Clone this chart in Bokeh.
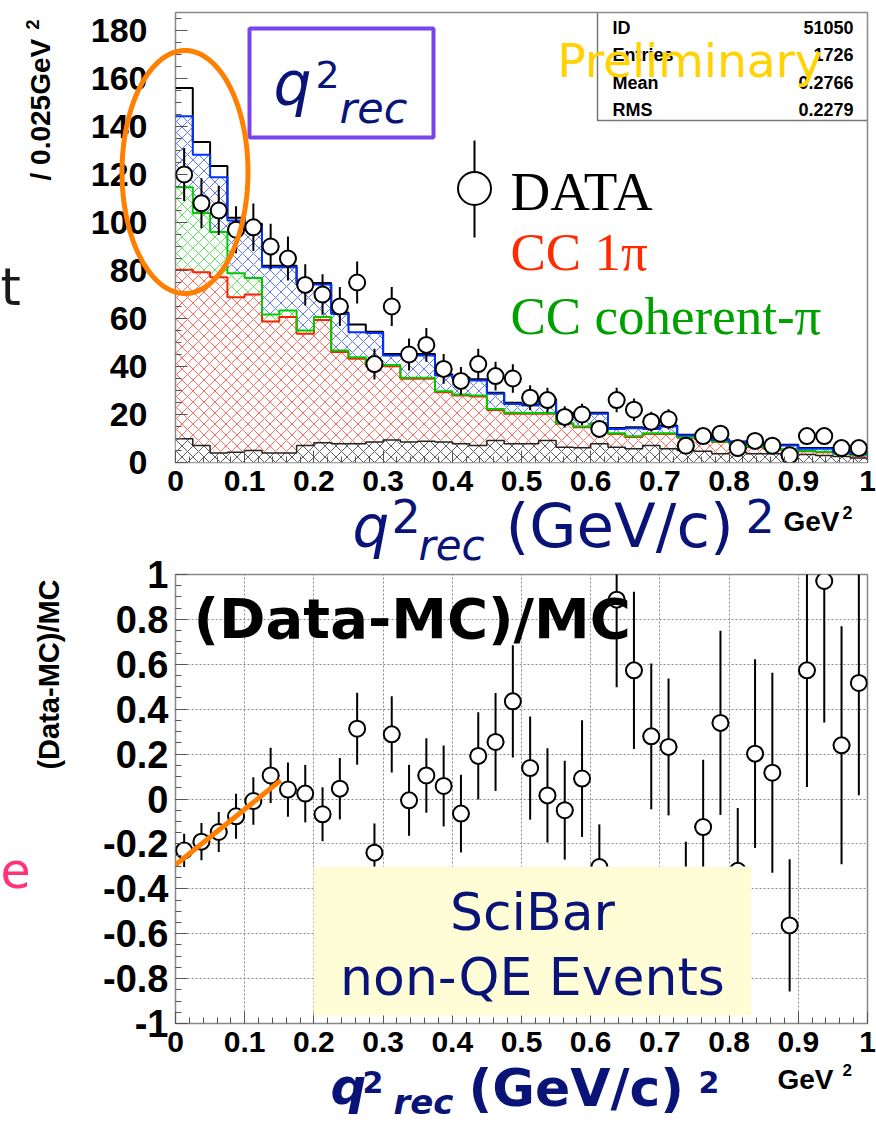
import numpy as np
from bokeh.plotting import figure
from bokeh.layouts import column
from bokeh.models import (Label, BoxAnnotation, PolyAnnotation, FixedTicker,
                          CustomJSTickFormatter, Range1d)
from bokeh.embed import file_html
from bokeh.resources import INLINE

# ---------------- data ----------------
bin_edges = np.linspace(0.0, 1.0, 41)          # 40 bins of 0.025 GeV^2

# cumulative stacked MC levels (top of each component)
mc_other = [9.9, 7.1, 4.0, 4.3, 5.0, 4.0, 4.0, 7.1, 8.2, 7.8, 7.8, 8.5, 9.4, 8.5, 8.9, 8.5, 7.8, 7.1, 9.2, 7.8,
            7.8, 9.2, 6.4, 6.1, 7.8, 6.4, 5.7, 7.1, 5.7, 5.0, 4.7, 3.6, 4.3, 3.6, 3.6, 2.9, 3.3, 2.9, 2.5, 1.9]
mc_cc1pi = [80.3, 79.3, 77.2, 68.9, 70.0, 58.8, 60.6, 53.6, 59.4, 46.0, 43.2, 40.1, 40.1, 34.9, 34.9, 29.3, 27.9, 27.5, 21.9, 20.3,
            20.3, 20.3, 16.1, 14.7, 16.1, 11.9, 10.6, 11.9, 11.9, 10.3, 9.9, 8.5, 7.8, 6.4, 5.7, 5.3, 4.7, 4.3, 3.6, 2.9]
mc_coh = [114.7, 104.0, 96.0, 78.9, 76.9, 61.7, 63.3, 55.0, 60.6, 46.7, 43.9, 40.6, 40.6, 35.3, 35.3, 29.7, 28.3, 27.9, 22.3, 20.7,
          20.6, 20.6, 16.4, 15.0, 16.4, 12.2, 10.9, 12.2, 12.2, 10.5, 10.1, 8.7, 8.0, 6.6, 5.9, 5.5, 4.9, 4.5, 3.8, 3.1]
mc_qe = [144.3, 128.2, 118.9, 100.8, 98.8, 81.4, 81.4, 74.2, 74.2, 61.9, 54.3, 54.0, 44.6, 44.6, 44.6, 36.3, 34.9, 34.2, 28.6, 24.4,
         23.8, 26.1, 20.3, 20.3, 20.3, 14.0, 14.3, 14.0, 15.0, 11.3, 11.3, 9.4, 8.5, 7.8, 7.1, 7.1, 5.7, 5.7, 4.3, 3.6]
mc_total = [156.0, 133.5, 123.5, 102.0, 99.5, 82.0, 82.0, 74.8, 74.8, 62.5, 57.5, 54.5, 45.2, 45.2, 45.2, 36.8, 35.4, 34.7, 29.1, 24.9,
            24.2, 26.5, 20.7, 20.7, 20.7, 14.4, 14.7, 14.4, 15.4, 11.6, 11.6, 9.7, 8.8, 8.1, 7.4, 7.4, 6.0, 6.0, 4.6, 3.9]

data_counts = [120, 108, 105, 97, 98, 90, 85, 74, 70, 65, 75, 41, 65, 45, 49, 39, 34, 41, 36, 35,
               27, 26, 19, 20, 14, 26, 22, 17, 18, 7, 11, 12, 6, 9, 7, 3, 11, 11, 6, 6]
data_err = [11.0, 10.4, 10.2, 9.8, 9.9, 9.5, 9.2, 8.6, 8.4, 8.1, 8.7, 6.4, 8.1, 6.7, 7.0, 6.2, 5.8, 6.4, 6.0, 5.9,
            5.2, 5.1, 4.4, 4.5, 3.7, 5.1, 4.7, 4.1, 4.2, 2.6, 3.3, 3.5, 2.4, 3.0, 2.6, 1.7, 3.3, 3.3, 2.4, 2.4]

ratio = [-0.229, -0.19, -0.147, -0.077, -0.009, 0.105, 0.042, 0.024, -0.068, 0.046, 0.313, -0.239, 0.288, -0.006, 0.105,
         0.058, -0.065, 0.192, 0.254, 0.435, 0.138, 0.016, -0.05, 0.091, -0.303, 0.888, 0.573, 0.279, 0.232, -0.42,
         -0.125, 0.339, -0.32, 0.202, 0.117, -0.563, 0.573, 0.971, 0.239, 0.517]
ratio_err = [0.074, 0.083, 0.089, 0.1, 0.106, 0.123, 0.121, 0.128, 0.12, 0.137, 0.16, 0.13, 0.17, 0.158, 0.166,
             0.18, 0.173, 0.194, 0.218, 0.25, 0.23, 0.21, 0.22, 0.26, 0.19, 0.39, 0.35, 0.325, 0.305, 0.23,
             0.3, 0.41, 0.28, 0.42, 0.445, 0.295, 0.52, 0.63, 0.53, 0.5]

fit_x = [0.0, 0.152]
fit_y = [-0.293, 0.083]

x_ticks = [0.0, 0.1, 0.2, 0.3, 0.4, 0.5, 0.6, 0.7, 0.8, 0.9, 1.0]
y1_ticks = [0, 20, 40, 60, 80, 100, 120, 140, 160, 180]
y2_ticks = [-1.0, -0.8, -0.6, -0.4, -0.2, 0.0, 0.2, 0.4, 0.6, 0.8, 1.0]

stats_names = ["ID", "Entries", "Mean", "RMS"]
stats_values = ["51050", "1726", "0.2766", "0.2279"]

# ---------------- helpers (page pixel -> data) ----------------
FL, FR = 175, 867
def fx(X):
    return (X - FL) / (FR - FL)
def fy1(Y):
    return (462 - Y) / 2.4
def fy2(Y):
    return (798.5 - Y) / 224.5

NAVY = "#0A1478"
fmt = CustomJSTickFormatter(code="return Number(tick.toFixed(2)).toString();")


def style_axes(p, ylab_size, ystand):
    for ax in (p.xaxis[0], p.yaxis[0]):
        ax.axis_line_color = None
        ax.major_tick_in = 12
        ax.major_tick_out = 0
        ax.minor_tick_in = 6
        ax.minor_tick_out = 0
        ax.major_tick_line_color = "#555555"
        ax.minor_tick_line_color = "#555555"
        ax.major_label_text_font = "Liberation Sans"
        ax.major_label_text_font_style = "bold"
        ax.major_label_text_color = "black"
        ax.formatter = fmt
    p.xaxis[0].ticker = FixedTicker(ticks=x_ticks, minor_ticks=list(np.round(np.arange(0, 1.0001, 0.02), 3)))
    p.xaxis[0].major_label_text_font_size = "30px"
    p.xaxis[0].major_label_standoff = 8
    p.yaxis[0].major_label_text_font_size = ylab_size
    p.yaxis[0].major_label_standoff = ystand
    p.outline_line_color = "#888888"
    p.outline_line_width = 1.5


# ================= TOP FIGURE =================
p1 = figure(width=876, height=545, output_backend="svg", toolbar_location=None,
            x_range=Range1d(0, 1), y_range=Range1d(0, 187.5),
            min_border_left=175, min_border_right=9, min_border_top=12, min_border_bottom=83)
p1.xgrid.visible = False
p1.ygrid.visible = False
style_axes(p1, "34px", 28)
p1.yaxis[0].ticker = FixedTicker(ticks=y1_ticks, minor_ticks=list(np.arange(0, 187, 5)))

left = bin_edges[:-1]
right = bin_edges[1:]
zeros = np.zeros(len(left))
hs = dict(hatch_pattern="diagonal_cross", hatch_scale=11, hatch_weight=0.8, fill_alpha=0, line_alpha=0)
p1.quad(left=left, right=right, bottom=zeros, top=mc_cc1pi, hatch_color="#FF4433", **hs)
p1.quad(left=left, right=right, bottom=mc_cc1pi, top=mc_coh, hatch_color="#33DD33", **hs)
p1.quad(left=left, right=right, bottom=mc_coh, top=mc_qe, hatch_color="#3355FF", **hs)
p1.quad(left=left, right=right, bottom=zeros, top=mc_other, fill_color="white", fill_alpha=1,
        line_alpha=0, hatch_pattern="diagonal_cross", hatch_scale=11, hatch_weight=0.8, hatch_color="#333333")


def stepline(p, vals, color, w=2):
    p.step(x=bin_edges, y=list(vals) + [vals[-1]], mode="after", line_color=color, line_width=w)


stepline(p1, mc_other, "#222222", 1.5)
stepline(p1, mc_cc1pi, "#FF2200")
stepline(p1, mc_coh, "#00CC00")
stepline(p1, mc_total, "#000000")
stepline(p1, mc_qe, "#0033FF")

centers = (left + right) / 2
dc = np.array(data_counts, dtype=float)
de = np.array(data_err)
p1.segment(x0=centers, x1=centers, y0=dc - de, y1=dc + de, line_color="black", line_width=2)
p1.segment(x0=left, x1=right, y0=dc, y1=dc, line_color="black", line_width=2)
p1.scatter(x=centers, y=dc, size=16, marker="circle", fill_color="white", line_color="black", line_width=2)

# stats box and q2rec box
p1.add_layout(BoxAnnotation(left=fx(597), right=1.0, bottom=fy1(120), top=187.5,
                            fill_color="white", fill_alpha=1, line_color="#777777", line_alpha=1, line_width=1.5))
p1.add_layout(BoxAnnotation(left=fx(249), right=fx(433), bottom=fy1(137), top=fy1(28),
                            fill_alpha=0, line_color="#7744EE", line_alpha=1, line_width=4))

# legend marker
leg_x, leg_y = fx(474), fy1(188)
p1.segment(x0=[leg_x], x1=[leg_x], y0=[fy1(237)], y1=[fy1(140)], line_color="black", line_width=2)
p1.scatter(x=[leg_x], y=[leg_y], size=33, marker="circle", fill_color="white", line_color="black", line_width=2)

# ================= BOTTOM FIGURE =================
p2 = figure(width=876, height=577, output_backend="svg", toolbar_location=None,
            x_range=Range1d(0, 1), y_range=Range1d(-1, 1),
            min_border_left=175, min_border_right=9, min_border_top=29, min_border_bottom=99)
style_axes(p2, "38px", 7)
p2.yaxis[0].ticker = FixedTicker(ticks=y2_ticks, minor_ticks=list(np.round(np.arange(-1, 1.0001, 0.05), 3)))
for g in (p2.xgrid[0], p2.ygrid[0]):
    g.grid_line_color = "#888888"
    g.grid_line_dash = "2 2"
    g.grid_line_width = 1
p2.xgrid[0].ticker = FixedTicker(ticks=x_ticks)
p2.ygrid[0].ticker = FixedTicker(ticks=y2_ticks)

r = np.array(ratio)
re = np.array(ratio_err)
p2.segment(x0=centers, x1=centers, y0=r - re, y1=r + re, line_color="black", line_width=2)
p2.segment(x0=left, x1=right, y0=r, y1=r, line_color="black", line_width=2)
p2.scatter(x=centers, y=r, size=16, marker="circle", fill_color="white", line_color="black", line_width=2)
p2.line(x=fit_x, y=fit_y, line_color="#FF7F00", line_width=5)

p2.add_layout(BoxAnnotation(left=fx(313), right=fx(751), bottom=fy2(1015), top=fy2(866),
                            fill_color="#FFFDD6", fill_alpha=1, line_alpha=0))

# ================= TRANSPARENT OVERLAY (page pixel coordinates, separate root) =================
ov = figure(width=876, height=1122, output_backend="svg", toolbar_location=None,
            x_range=Range1d(0, 876), y_range=Range1d(1122, 0),
            x_axis_location=None, y_axis_location=None,
            min_border=0, min_border_left=0, min_border_right=0, min_border_top=0, min_border_bottom=0)
ov.xgrid.visible = False
ov.ygrid.visible = False
ov.outline_line_color = None
ov.background_fill_color = None
ov.border_fill_color = None
ov.styles = {"position": "absolute", "top": "0px", "left": "0px", "pointer-events": "none"}

# empirical offset of the alphabetic baseline (fraction of font size)
BASE_SHIFT = {"DejaVu Sans": 0.36, "Liberation Sans": 0.32, "Liberation Serif": 0.31}


def lab(x, y, text, size, font="DejaVu Sans", style="normal", color="black", align="left",
        baseline="alphabetic", angle=0.0):
    if baseline == "alphabetic":
        y = y - BASE_SHIFT[font] * float(size.replace("px", ""))
    ov.add_layout(Label(x=x, y=y, text=text, text_font=font, text_font_size=size,
                        text_font_style=style, text_color=color, text_align=align,
                        text_baseline=baseline, angle=angle))


# stats box text + Preliminary
for i, (n, v) in enumerate(zip(stats_names, stats_values)):
    yb = [33, 60, 88, 115][i]
    lab(612, yb, n, "18px", font="Liberation Sans", style="bold")
    lab(853, yb, v, "18px", font="Liberation Sans", style="bold", align="right")
lab(557, 77, "Preliminary", "47px", color="#FFD200")

# q2rec box text
lab(273, 105, "q", "60px", style="italic", color=NAVY)
lab(315, 88, "2", "38px", color=NAVY)
lab(339, 123, "rec", "43px", style="italic", color=NAVY)

# legend text
lab(510, 208, "DATA", "55px", font="Liberation Serif")
lab(510, 268, "CC 1π", "53px", font="Liberation Serif", color="#FF2A00")
lab(510, 332, "CC coherent-π", "53px", font="Liberation Serif", color="#00A000")

# orange ellipse
t = np.linspace(0, 2 * np.pi, 120)
ov.add_layout(PolyAnnotation(xs=list(184.5 + 63 * np.cos(t)), ys=list(171.5 + 121.5 * np.sin(t)),
                             fill_alpha=0, line_color="#FF7F00", line_alpha=1, line_width=5))

# top axis titles
lab(352, 547, "q", "58px", style="italic", color=NAVY)
lab(391, 532, "2", "46px", color=NAVY)
lab(418, 560, "rec", "42px", style="italic", color=NAVY)
lab(505, 547, "(GeV/c)", "61px", color=NAVY)
lab(745, 532, "2", "46px", color=NAVY)
lab(783, 530, "GeV", "28px", font="Liberation Sans", style="bold")
lab(842, 518, "2", "18px", font="Liberation Sans", style="bold")
lab(40, 180, "/ 0.025GeV", "28px", font="Liberation Sans", style="bold", baseline="middle", angle=np.pi / 2)
lab(32, 29, "2", "18px", font="Liberation Sans", style="bold", baseline="middle", angle=np.pi / 2)
lab(0, 305, "t", "52px", color="#1A1A1A")

# bottom panel texts
lab(193, 638, "(Data-MC)/MC", "56px", style="bold")
lab(532, 930, "SciBar", "52px", color=NAVY, align="center")
lab(532, 995, "non-QE Events", "52px", color=NAVY, align="center")
lab(330, 1104, "q", "50px", style="bold italic", color=NAVY)
lab(362, 1092, "2", "30px", style="bold", color=NAVY)
lab(393, 1114, "rec", "34px", style="bold italic", color=NAVY)
lab(468, 1106, "(GeV/c)", "52px", style="bold", color=NAVY)
lab(698, 1092, "2", "30px", style="bold", color=NAVY)
lab(777, 1088, "GeV", "28px", font="Liberation Sans", style="bold")
lab(842, 1075, "2", "17px", font="Liberation Sans", style="bold")
lab(48, 674, "(Data-MC)/MC", "29px", font="Liberation Sans", style="bold",
    align="center", baseline="middle", angle=np.pi / 2)
lab(0, 887, "e", "49px", color="#FF3377")

layout = column(p1, p2, spacing=0)
open("out.html", "w").write(file_html([layout, ov], INLINE))
